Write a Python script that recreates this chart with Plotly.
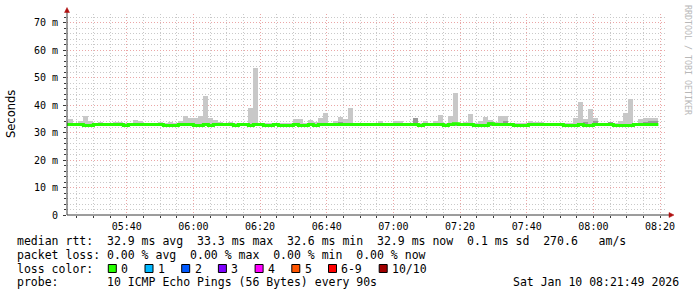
import plotly.graph_objects as go
import pandas as pd

# ---------------- data ----------------
DAY = "2026-01-10"
START = DAY + " 05:21:00"      # first RRD step start
STEP = "90s"

median_ms = [
    33.0, 33.0, 33.0, 33.0, 32.6, 32.6, 33.0, 33.0, 33.0, 33.0,
    33.0, 33.0, 32.6, 33.0, 33.0, 33.0, 33.0, 33.0, 33.0, 33.0,
    32.6, 32.6, 32.6, 33.0, 33.0, 33.0, 32.6, 32.6, 33.0, 32.6,
    33.0, 33.0, 33.0, 33.0, 32.6, 33.0, 33.0, 32.6, 33.0, 33.0,
    32.6, 32.6, 33.0, 32.6, 32.6, 32.6, 33.0, 32.6, 32.6, 33.0,
    32.6, 33.0, 33.0, 33.0, 33.0, 33.0, 33.0, 33.0, 33.0, 33.0,
    33.0, 33.0, 33.0, 33.0, 33.0, 33.0, 33.0, 33.0, 33.0, 33.0,
    33.0, 32.6, 33.0, 33.0, 33.0, 33.0, 32.6, 33.0, 33.2, 33.0,
    33.0, 33.0, 32.6, 32.6, 32.6, 33.2, 33.0, 33.0, 33.0, 33.0,
    32.6, 32.6, 32.6, 33.0, 33.0, 33.0, 33.0, 33.0, 33.0, 33.0,
    32.6, 32.6, 32.6, 33.0, 32.6, 32.6, 33.0, 33.0, 33.0, 33.0,
    32.6, 32.6, 32.6, 32.6, 33.0, 33.0, 33.0, 33.0, 33.0,
]

smoke_max_ms = [
    34.0, 35.0, 33.5, 34.3, 35.9, 34.3, 33.5, 33.8, 33.5, 33.5,
    33.7, 33.8, 33.4, 33.5, 34.7, 34.2, 33.5, 33.5, 33.6, 34.0,
    33.6, 33.9, 33.5, 34.3, 35.9, 35.2, 35.2, 35.9, 43.4, 35.3,
    34.7, 33.7, 33.6, 34.0, 33.5, 33.6, 33.5, 38.9, 53.7, 33.3,
    33.4, 33.6, 33.5, 33.6, 33.4, 33.5, 35.0, 35.0, 33.6, 34.7,
    33.9, 35.4, 37.3, 33.6, 34.2, 35.8, 35.0, 39.0, 33.5, 33.6,
    33.5, 33.6, 33.5, 34.3, 33.5, 33.6, 34.3, 34.3, 33.5, 33.6,
    35.3, 33.4, 34.3, 33.5, 34.3, 36.5, 33.4, 36.1, 44.5, 33.6,
    34.0, 36.8, 33.5, 34.3, 35.8, 34.7, 34.0, 36.1, 36.1, 33.5,
    33.4, 33.5, 33.5, 34.3, 33.9, 33.9, 33.6, 33.6, 33.4, 33.4,
    33.4, 33.5, 35.2, 41.3, 34.8, 38.7, 35.2, 33.5, 33.5, 33.9,
    33.5, 34.3, 37.2, 42.3, 33.6, 34.8, 35.4, 35.2, 35.2,
]

smoke_dark_ms = [
    33.3, 33.3, 33.3, 33.3, 33.0, 33.0, 33.3, 33.3, 33.3, 33.3,
    33.3, 33.3, 33.0, 33.3, 33.3, 33.3, 33.3, 33.3, 33.3, 33.3,
    33.0, 33.0, 33.0, 33.3, 33.3, 33.3, 33.0, 33.0, 33.3, 33.0,
    33.3, 33.3, 33.3, 33.3, 33.0, 33.3, 33.3, 33.0, 33.3, 33.3,
    33.0, 33.0, 33.3, 33.0, 33.0, 33.0, 33.3, 33.0, 33.0, 33.3,
    33.0, 33.3, 33.3, 33.3, 33.3, 34.0, 33.3, 33.3, 33.3, 33.3,
    33.3, 33.3, 33.3, 33.3, 33.3, 33.3, 33.3, 33.3, 33.3, 33.3,
    35.3, 33.0, 33.3, 33.3, 33.3, 33.3, 33.0, 33.3, 33.5, 33.3,
    33.3, 33.3, 33.0, 33.0, 33.0, 34.0, 33.3, 33.3, 34.2, 33.3,
    33.0, 33.0, 33.0, 33.3, 33.3, 33.3, 33.3, 33.3, 33.3, 33.3,
    33.0, 33.0, 33.0, 33.3, 34.0, 33.0, 34.3, 33.3, 33.3, 33.9,
    33.0, 33.0, 33.0, 33.0, 33.3, 33.3, 34.0, 34.2, 34.2,
]

smoke_min_ms = [
    32.5, 32.5, 32.5, 32.5, 32.3, 32.3, 32.5, 32.5, 32.5, 32.5,
    32.5, 32.5, 32.3, 32.5, 32.5, 32.5, 32.5, 32.5, 32.5, 32.5,
    32.3, 32.3, 32.3, 32.5, 32.5, 32.5, 32.3, 32.3, 32.5, 32.3,
    32.5, 32.5, 32.5, 32.5, 32.3, 32.5, 32.5, 32.3, 32.5, 32.5,
    32.3, 32.3, 32.5, 32.3, 32.3, 32.3, 32.5, 32.3, 32.3, 32.5,
    32.3, 32.5, 32.5, 32.5, 32.5, 32.5, 32.5, 32.5, 32.5, 32.5,
    32.5, 32.5, 32.5, 32.5, 32.5, 32.5, 32.5, 32.5, 32.5, 32.5,
    32.3, 32.3, 32.5, 32.5, 32.5, 32.5, 32.1, 32.5, 32.5, 32.5,
    32.5, 32.5, 32.3, 32.3, 32.3, 32.5, 32.5, 32.5, 32.5, 32.5,
    32.3, 32.3, 32.3, 32.5, 32.5, 32.5, 32.5, 32.5, 32.5, 32.5,
    32.3, 32.3, 32.3, 32.5, 32.3, 32.3, 32.5, 32.5, 32.5, 32.5,
    32.3, 32.3, 32.3, 32.3, 32.5, 32.5, 32.5, 32.5, 32.5,
]

x_tick_labels = ["05:40", "06:00", "06:20", "06:40", "07:00", "07:20", "07:40", "08:00", "08:20"]
y_tick_values = [0, 10, 20, 30, 40, 50, 60, 70]
y_tick_labels = ["0", "10 m", "20 m", "30 m", "40 m", "50 m", "60 m", "70 m"]

legend_lines = [
    "median rtt:  32.9 ms avg  33.3 ms max  32.6 ms min  32.9 ms now  0.1 ms sd  270.6   am/s",
    "packet loss: 0.00 % avg  0.00 % max  0.00 % min  0.00 % now",
    "loss color:",
    "probe:       10 ICMP Echo Pings (56 Bytes) every 90s",
]
loss_labels = ["0", "1", "2", "3", "4", "5", "6-9", "10/10"]
loss_colors = ["#26ff00", "#00b8ff", "#0059ff", "#7e00ff", "#ff00ff", "#ff5500", "#ff0000", "#a10000"]
timestamp_text = "Sat Jan 10 08:21:49 2026"
watermark = "RRDTOOL / TOBI OETIKER"

# ---------------- geometry / style ----------------
W, H = 697, 297
L, R, T, B = 67, 30, 14, 82
PW, PH = W - L - R, H - T - B
X_RANGE = [DAY + " 05:22:05", DAY + " 08:22:05"]
Y_RANGE = [0, 73.2]

MONO = "DejaVu Sans Mono"
GRID = "#c9c9c9"
MGRID = "#eba6a6"
AXIS = "#3a3a3a"
ARROW = "#b01010"
DASH = "1px,2px"


def px(xp):
    return (xp - L) / PW


def py(yp):
    return (H - B - yp) / PH


n = len(median_ms)
starts = pd.date_range(START, periods=n + 1, freq=STEP)
centers = starts[:-1] + pd.Timedelta(seconds=45)
step_ms = 90 * 1000

fig = go.Figure()

fig.add_trace(go.Bar(
    x=centers, y=[a - b for a, b in zip(smoke_max_ms, smoke_min_ms)], base=smoke_min_ms,
    width=step_ms, marker=dict(color="#c8c8c8", line=dict(width=0)), hoverinfo="skip",
))
fig.add_trace(go.Bar(
    x=centers, y=[a - b for a, b in zip(smoke_dark_ms, smoke_min_ms)], base=smoke_min_ms,
    width=step_ms, marker=dict(color="#9a9a9a", line=dict(width=0)), hoverinfo="skip",
))
fig.add_trace(go.Scatter(
    x=starts, y=median_ms + [median_ms[-1]], mode="lines",
    line=dict(color=loss_colors[0], width=3, shape="hv"), hoverinfo="skip",
))

fig.update_layout(
    width=W, height=H, margin=dict(l=L, r=R, t=T, b=B, pad=0),
    paper_bgcolor="white", plot_bgcolor="white",
    showlegend=False, barmode="overlay", bargap=0,
    font=dict(family=MONO, size=10, color="#000000"),
)

fig.update_xaxes(
    type="date", range=X_RANGE,
    tickvals=[DAY + " " + t for t in x_tick_labels], ticktext=x_tick_labels,
    tickfont=dict(family=MONO, size=10, color="#000000"),
    showgrid=True, gridcolor=MGRID, gridwidth=1, griddash=DASH,
    minor=dict(dtick=300000, tick0=DAY + " 05:00:00", showgrid=True, gridcolor=GRID,
               griddash=DASH, ticks="outside", ticklen=2, tickcolor=AXIS),
    ticks="outside", ticklen=2, tickcolor=AXIS, ticklabelstandoff=0,
    showline=False, zeroline=False, fixedrange=True,
)
fig.update_yaxes(
    range=Y_RANGE, tickvals=y_tick_values, ticktext=y_tick_labels,
    tickfont=dict(family=MONO, size=10, color="#000000"),
    showgrid=True, gridcolor=MGRID, gridwidth=1, griddash=DASH,
    minor=dict(dtick=2, showgrid=True, gridcolor=GRID, griddash=DASH,
               ticks="outside", ticklen=2, tickcolor=AXIS),
    ticks="outside", ticklen=3, tickcolor=AXIS, ticklabelstandoff=3,
    showline=False, zeroline=False, fixedrange=True,
)

shapes = []
# axes lines with arrows
shapes.append(dict(type="line", xref="paper", yref="paper", x0=px(67), x1=px(67), y0=py(215), y1=py(11),
                   line=dict(color=AXIS, width=1)))
shapes.append(dict(type="line", xref="paper", yref="paper", x0=px(67), x1=px(670), y0=py(215), y1=py(215),
                   line=dict(color=AXIS, width=1)))
shapes.append(dict(type="path", xref="paper", yref="paper",
                   path=f"M {px(64.5)} {py(12.5)} L {px(69.5)} {py(12.5)} L {px(67)} {py(7.5)} Z",
                   fillcolor=ARROW, line=dict(color=ARROW, width=0.5)))
shapes.append(dict(type="path", xref="paper", yref="paper",
                   path=f"M {px(669)} {py(212.5)} L {px(669)} {py(217.5)} L {px(674)} {py(215)} Z",
                   fillcolor=ARROW, line=dict(color=ARROW, width=0.5)))

annotations = []
LEG_FONT = dict(family=MONO, size=11.5, color="#000000")
line_y = [241, 255, 268.5, 282]
for txt, yy in zip(legend_lines, line_y):
    annotations.append(dict(text=txt, x=px(15), y=py(yy), xref="paper", yref="paper",
                            xanchor="left", yanchor="middle", showarrow=False, font=LEG_FONT))
annotations.append(dict(text=timestamp_text, x=px(681), y=py(282), xref="paper", yref="paper",
                        xanchor="right", yanchor="middle", showarrow=False, font=LEG_FONT))

# loss colour swatches
sx = 108.3
for lab, col in zip(loss_labels, loss_colors):
    shapes.append(dict(type="rect", xref="paper", yref="paper",
                       x0=px(sx), x1=px(sx + 8), y0=py(272.5), y1=py(264.5),
                       fillcolor=col, line=dict(color="#000000", width=1)))
    annotations.append(dict(text=lab, x=px(sx + 11), y=py(268.5), xref="paper", yref="paper",
                            xanchor="left", yanchor="middle", showarrow=False, font=LEG_FONT))
    sx += 36.7 + 7.0 * (len(lab) - 1)

# y axis title
annotations.append(dict(text="Seconds", x=px(11), y=py(114), xref="paper", yref="paper",
                        xanchor="center", yanchor="middle", textangle=-90, showarrow=False,
                        font=dict(family="DejaVu Sans", size=11.5, color="#000000")))
# watermark
annotations.append(dict(text=watermark, x=px(688), y=py(60), xref="paper", yref="paper",
                        xanchor="center", yanchor="middle", textangle=90, showarrow=False,
                        font=dict(family=MONO, size=8.3, color="#b8b8b8")))

fig.update_layout(shapes=shapes, annotations=annotations)
fig.write_html("out.html")
